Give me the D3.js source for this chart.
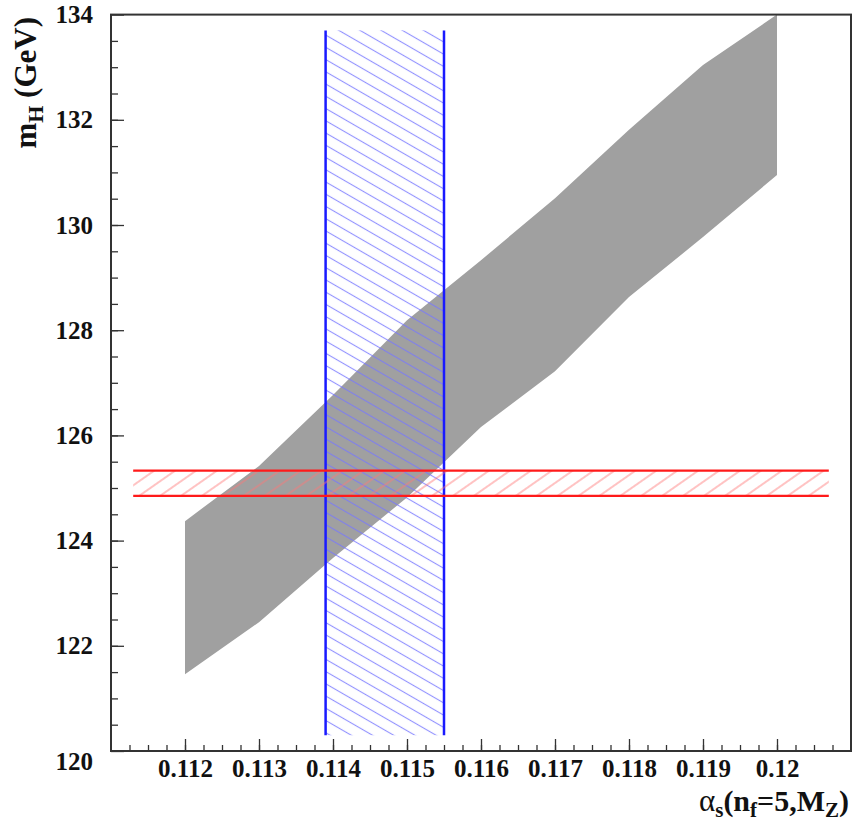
<!DOCTYPE html>
<html>
<head>
<meta charset="utf-8">
<script src="https://cdn.jsdelivr.net/npm/d3@7"></script>
<style>
  html, body { margin: 0; padding: 0; background: #ffffff; }
  svg { display: block; }
  svg text { font-family: "Liberation Serif", Tinos, "Times New Roman", "DejaVu Serif", serif; }
</style>
</head>
<body>
<svg id="chart" width="853" height="830"></svg>
<script>
// alpha_s(M_Z) grid and the allowed m_H band (lower / upper edge, GeV)
const alphaS  = [0.112, 0.113, 0.114, 0.115, 0.116, 0.117, 0.118, 0.119, 0.120];
const mhUpper = [124.37, 125.42, 126.77, 128.19, 129.33, 130.51, 131.81, 133.04, 134.0];
const mhLower = [121.46, 122.45, 123.67, 124.82, 126.16, 127.22, 128.63, 129.77, 130.95];

// world-average alpha_s window (vertical band) and its drawn height
const alphaBand   = [0.1139, 0.1155];
const alphaBandMh = [120.3, 133.7];

// measured m_H window (horizontal band) and its drawn width
const mhBand      = [124.85, 125.33];
const mhBandAlpha = [0.1113, 0.1207];

// axis ticks
const xTicks = [0.112, 0.113, 0.114, 0.115, 0.116, 0.117, 0.118, 0.119, 0.120];
const xTickLabels = ["0.112", "0.113", "0.114", "0.115", "0.116", "0.117", "0.118", "0.119", "0.12"];
const yTicks = [120, 122, 124, 126, 128, 130, 132, 134];

const SERIF = '"Liberation Serif", Tinos, "Times New Roman", "DejaVu Serif", serif';

const svg = d3.select("#chart");

const x = d3.scaleLinear().domain([0.111, 0.121]).range([111, 851]);
const y = d3.scaleLinear().domain([120, 134]).range([751, 14.6]);

// hatch patterns
const defs = svg.append("defs");
defs.append("pattern")
  .attr("id", "hatch-blue")
  .attr("patternUnits", "userSpaceOnUse")
  .attr("width", 20).attr("height", 10.6)
  .attr("patternTransform", "rotate(30)")
  .append("line")
  .attr("x1", -1).attr("x2", 21).attr("y1", 5.3).attr("y2", 5.3)
  .attr("stroke", "#7777ff").attr("stroke-width", 1.1).attr("stroke-opacity", 0.8);
defs.append("pattern")
  .attr("id", "hatch-red")
  .attr("patternUnits", "userSpaceOnUse")
  .attr("width", 20).attr("height", 12)
  .attr("patternTransform", "rotate(-35)")
  .append("line")
  .attr("x1", -1).attr("x2", 21).attr("y1", 6).attr("y2", 6)
  .attr("stroke", "#ff7777").attr("stroke-width", 1.1).attr("stroke-opacity", 0.8);

// grey allowed region
const band = alphaS.map((a, i) => ({ a, lo: mhLower[i], hi: mhUpper[i] }));
svg.append("path")
  .datum(band)
  .attr("fill", "#a0a0a0")
  .attr("d", d3.area().x(d => x(d.a)).y0(d => y(d.lo)).y1(d => y(d.hi)));

// alpha_s band: hatch plus its two edges
svg.append("rect")
  .attr("x", x(alphaBand[0]))
  .attr("y", y(alphaBandMh[1]))
  .attr("width", x(alphaBand[1]) - x(alphaBand[0]))
  .attr("height", y(alphaBandMh[0]) - y(alphaBandMh[1]))
  .attr("fill", "url(#hatch-blue)");
svg.selectAll("line.alpha-edge")
  .data(alphaBand)
  .join("line")
  .attr("class", "alpha-edge")
  .attr("x1", d => x(d)).attr("x2", d => x(d))
  .attr("y1", y(alphaBandMh[0])).attr("y2", y(alphaBandMh[1]))
  .attr("stroke", "#1a1aff").attr("stroke-width", 2.5);

// m_H band: hatch plus its two edges
svg.append("rect")
  .attr("x", x(mhBandAlpha[0]))
  .attr("y", y(mhBand[1]))
  .attr("width", x(mhBandAlpha[1]) - x(mhBandAlpha[0]))
  .attr("height", y(mhBand[0]) - y(mhBand[1]))
  .attr("fill", "url(#hatch-red)");
svg.selectAll("line.mh-edge")
  .data(mhBand)
  .join("line")
  .attr("class", "mh-edge")
  .attr("x1", x(mhBandAlpha[0])).attr("x2", x(mhBandAlpha[1]))
  .attr("y1", d => y(d)).attr("y2", d => y(d))
  .attr("stroke", "#ff1a1a").attr("stroke-width", 2.2);

// frame
svg.append("rect")
  .attr("x", x.range()[0]).attr("y", y.range()[1])
  .attr("width", x.range()[1] - x.range()[0])
  .attr("height", y.range()[0] - y.range()[1])
  .attr("fill", "none").attr("stroke", "#333").attr("stroke-width", 2);

// axes: ticks point into the frame
const xMinor = d3.range(0.11125, 0.1208, 0.00025);
const yMinor = d3.range(120.5, 134, 0.5);

const xMinorAxis = svg.append("g").attr("transform", `translate(0,${y.range()[0]})`)
  .call(d3.axisBottom(x).tickValues(xMinor).tickSize(-6).tickFormat(""));
const xAxis = svg.append("g").attr("transform", `translate(0,${y.range()[0]})`)
  .call(d3.axisBottom(x).tickValues(xTicks).tickSize(-12).tickPadding(8)
    .tickFormat((d, i) => xTickLabels[i]));

const yMinorAxis = svg.append("g").attr("transform", `translate(${x.range()[0]},0)`)
  .call(d3.axisLeft(y).tickValues(yMinor).tickSize(-7).tickFormat(""));
const yAxis = svg.append("g").attr("transform", `translate(${x.range()[0]},0)`)
  .call(d3.axisLeft(y).tickValues(yTicks).tickSize(-13).tickPadding(18).tickFormat(d3.format("d")));

[xMinorAxis, xAxis, yMinorAxis, yAxis].forEach(g => {
  g.attr("font-family", SERIF);
  g.select(".domain").remove();
  g.selectAll(".tick line").attr("stroke", "#333").attr("stroke-width", 1.3);
  g.selectAll("text")
    .style("font-family", SERIF)
    .attr("font-weight", "bold")
    .attr("font-size", 25)
    .attr("fill", "#111");
});
// lowest y label sits below the corner
yAxis.selectAll(".tick text").filter(d => d === 120).attr("dy", "0.75em");

// axis titles
const yTitle = svg.append("text")
  .attr("transform", "translate(36,17) rotate(-90)")
  .attr("text-anchor", "end")
  .style("font-family", SERIF)
  .attr("font-weight", "bold")
  .attr("font-size", 31)
  .attr("fill", "#111");
yTitle.append("tspan").text("m");
yTitle.append("tspan").attr("font-size", 22).attr("dy", 7).text("H");
yTitle.append("tspan").attr("dy", -7).text(" (GeV)");

const xTitle = svg.append("text")
  .attr("x", 849).attr("y", 811)
  .attr("text-anchor", "end")
  .style("font-family", SERIF)
  .attr("font-weight", "bold")
  .attr("font-size", 30)
  .attr("fill", "#111");
xTitle.append("tspan").attr("font-weight", "normal").attr("font-size", 31).text("α");
xTitle.append("tspan").attr("font-size", 21).attr("dy", 6).text("s");
xTitle.append("tspan").attr("dy", -6).text("(n");
xTitle.append("tspan").attr("font-size", 21).attr("dy", 6).text("f");
xTitle.append("tspan").attr("dy", -6).text("=5,M");
xTitle.append("tspan").attr("font-size", 21).attr("dy", 6).text("Z");
xTitle.append("tspan").attr("dy", -6).text(")");
</script>
</body>
</html>
